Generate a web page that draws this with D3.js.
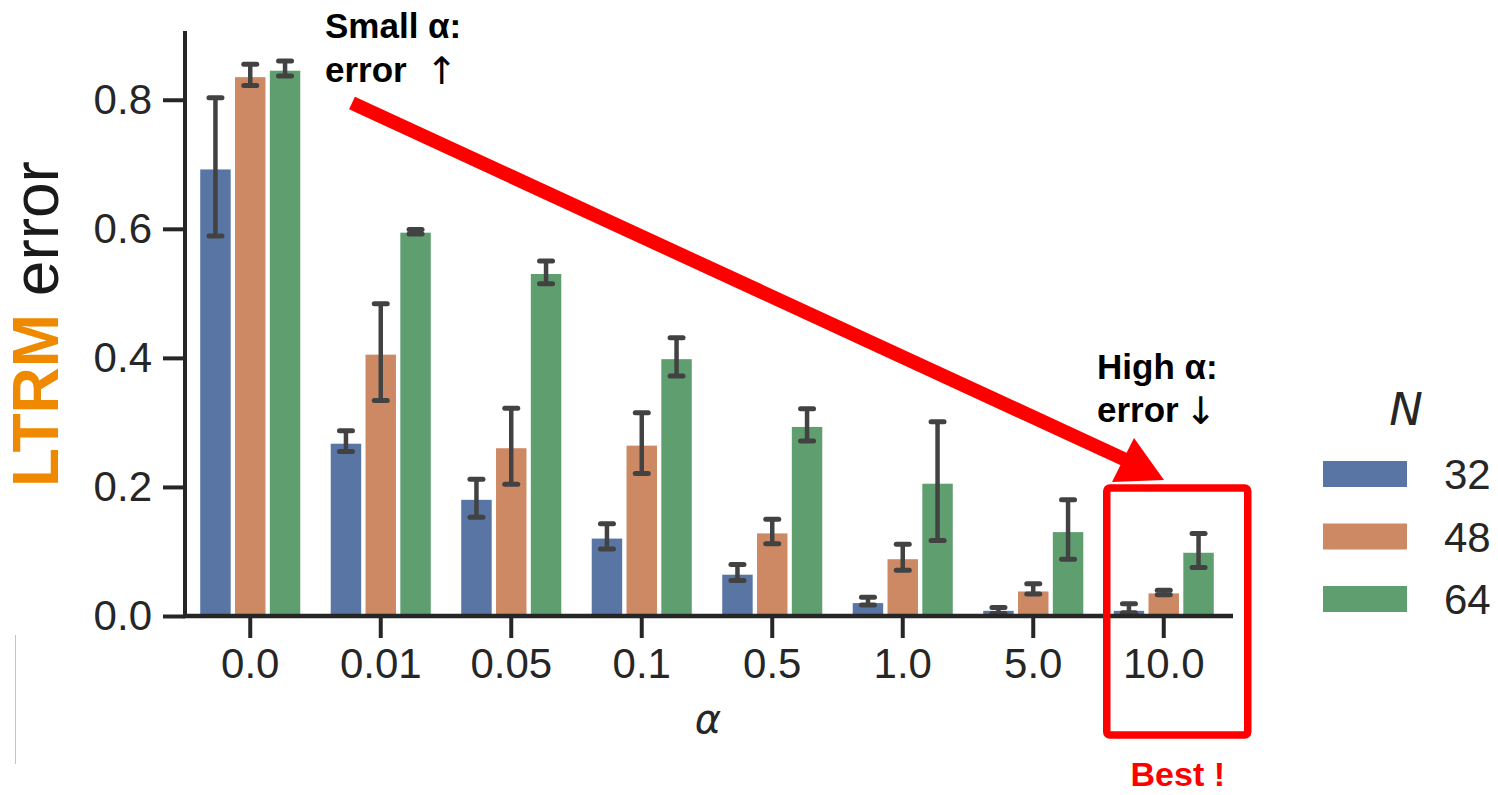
<!DOCTYPE html>
<html>
<head>
<meta charset="utf-8">
<script src="https://cdn.jsdelivr.net/npm/d3@7"></script>
<style>
  html, body { margin: 0; padding: 0; background: #ffffff; }
  svg { display: block; }
</style>
</head>
<body>
<svg id="chart" width="1498" height="795"></svg>
<script>
// Regularisation strength (x categories) and system sizes (hue)
const alphas = ["0.0", "0.01", "0.05", "0.1", "0.5", "1.0", "5.0", "10.0"];
const sizes = ["32", "48", "64"];

// Mean LTRM error and confidence interval per alpha, one array per N
const mean32 = [0.692, 0.267, 0.180, 0.120, 0.064, 0.020, 0.008, 0.008];
const lo32   = [0.589, 0.255, 0.153, 0.104, 0.055, 0.017, 0.004, 0.005];
const hi32   = [0.803, 0.287, 0.212, 0.143, 0.080, 0.029, 0.013, 0.019];

const mean48 = [0.835, 0.405, 0.260, 0.264, 0.128, 0.088, 0.038, 0.035];
const lo48   = [0.822, 0.334, 0.204, 0.221, 0.112, 0.071, 0.034, 0.033];
const hi48   = [0.855, 0.484, 0.322, 0.315, 0.150, 0.111, 0.050, 0.040];

const mean64 = [0.845, 0.594, 0.530, 0.398, 0.293, 0.205, 0.130, 0.098];
const lo64   = [0.837, 0.592, 0.515, 0.372, 0.271, 0.117, 0.088, 0.075];
const hi64   = [0.860, 0.599, 0.550, 0.431, 0.321, 0.301, 0.180, 0.128];

const yTicks = [0.0, 0.2, 0.4, 0.6, 0.8];
const colors = ["#5875a4", "#cc8963", "#5f9e6e"];

const seriesMean = [mean32, mean48, mean64];
const seriesLo = [lo32, lo48, lo64];
const seriesHi = [hi32, hi48, hi64];

const rows = [];
alphas.forEach((a, i) => {
  sizes.forEach((n, j) => {
    rows.push({ alpha: a, n: n, j: j, mean: seriesMean[j][i], lo: seriesLo[j][i], hi: seriesHi[j][i] });
  });
});

const svg = d3.select("#chart");
const ink = "#262626";
const sans = "'Liberation Sans', Arial, sans-serif";

svg.append("rect").attr("width", 1498).attr("height", 795).attr("fill", "#ffffff");

// Scales
const x0 = d3.scaleBand().domain(alphas).range([185, 1229]).paddingInner(0).paddingOuter(0);
const bw = x0.bandwidth();
const x1 = d3.scaleBand().domain(sizes).range([0.1 * bw, 0.9 * bw]).paddingInner(0.125).paddingOuter(0.0625);
const y = d3.scaleLinear().domain([0, 0.905]).range([616, 32]);

// Bars
svg.append("g").selectAll("rect").data(rows).join("rect")
  .attr("x", d => x0(d.alpha) + x1(d.n))
  .attr("width", x1.bandwidth())
  .attr("y", d => y(d.mean))
  .attr("height", d => y(0) - y(d.mean))
  .attr("fill", d => colors[d.j]);

// Error bars
const err = svg.append("g").attr("stroke", "#424242").attr("fill", "none");
rows.forEach(d => {
  const cx = x0(d.alpha) + x1(d.n) + x1.bandwidth() / 2;
  err.append("line").attr("x1", cx).attr("x2", cx).attr("y1", y(d.hi)).attr("y2", y(d.lo))
    .attr("stroke-width", 4.5);
  [d.lo, d.hi].forEach(v => {
    err.append("line").attr("x1", cx - 6.5).attr("x2", cx + 6.5).attr("y1", y(v)).attr("y2", y(v))
      .attr("stroke-width", 5).attr("stroke-linecap", "round");
  });
});

// Axes
const yAxis = svg.append("g").attr("transform", "translate(185,0)")
  .call(d3.axisLeft(y).tickValues(yTicks).tickFormat(d3.format(".1f")).tickSize(22).tickPadding(11));
const xAxis = svg.append("g").attr("transform", "translate(0,616)")
  .call(d3.axisBottom(x0).tickSize(22).tickPadding(10));
[yAxis, xAxis].forEach(g => {
  g.select(".domain").remove();
  g.selectAll(".tick line").attr("stroke", ink).attr("stroke-width", 4);
  g.selectAll(".tick text").attr("fill", ink).style("font-family", sans).style("font-size", "42px");
});
svg.append("line").attr("x1", 185).attr("x2", 185).attr("y1", 31).attr("y2", 618)
  .attr("stroke", ink).attr("stroke-width", 4);
svg.append("line").attr("x1", 183).attr("x2", 1233).attr("y1", 616).attr("y2", 616)
  .attr("stroke", ink).attr("stroke-width", 4.5);

// Axis titles
svg.append("text").attr("x", 708).attr("y", 733).attr("text-anchor", "middle")
  .style("font-family", "'DejaVu Sans', sans-serif").style("font-style", "italic").style("font-size", "40px")
  .attr("fill", ink).text("α");

const yl = svg.append("text").attr("transform", "translate(58,324) rotate(-90)")
  .attr("text-anchor", "middle").style("font-family", sans).style("font-size", "64px");
yl.append("tspan").attr("fill", "#ef8a00").style("font-weight", "bold").text("LTRM");
yl.append("tspan").attr("fill", "#1a1a1a").text(" error");

// Legend
const leg = svg.append("g");
leg.append("text").attr("x", 1406).attr("y", 425).attr("text-anchor", "middle")
  .style("font-family", "'DejaVu Sans', sans-serif").style("font-style", "italic").style("font-size", "45px")
  .attr("fill", ink).text("N");
sizes.forEach((n, j) => {
  const top = 461 + j * 62.5;
  leg.append("rect").attr("x", 1323).attr("y", top).attr("width", 84).attr("height", 26).attr("fill", colors[j]);
  leg.append("text").attr("x", 1444).attr("y", top + 28).style("font-family", sans).style("font-size", "42px")
    .attr("fill", ink).text(n);
});

// Annotations
const note = (x, yy, s, color) => svg.append("text").attr("x", x).attr("y", yy)
  .style("font-family", sans).style("font-weight", "bold").style("font-size", "35px").attr("fill", color || "#000").text(s);
const arrowGlyph = (x, yy, s) => svg.append("text").attr("x", x).attr("y", yy).attr("text-anchor", "middle")
  .style("font-family", "'DejaVu Sans', sans-serif").style("font-size", "38px").attr("fill", "#000").text(s);

note(325, 38, "Small α:");
note(325, 82, "error");
arrowGlyph(442, 84, "↑");
note(1097, 379, "High α:");
note(1097, 422, "error");
arrowGlyph(1201, 424, "↓");

// Trend arrow from small to large alpha
svg.append("line").attr("x1", 352).attr("y1", 103).attr("x2", 1128).attr("y2", 461)
  .attr("stroke", "#ff0000").attr("stroke-width", 14);
svg.append("path").attr("d", d3.line()([[1112, 482], [1134, 438], [1164, 480]]) + "Z").attr("fill", "#ff0000");

// Highlight box around the largest alpha
const c10 = x0("10.0") + bw / 2;
svg.append("rect").attr("x", c10 - 57).attr("y", 488).attr("width", 141).attr("height", 247)
  .attr("rx", 3).attr("fill", "none").attr("stroke", "#ff0000").attr("stroke-width", 7.5);
note(c10 + 14, 786, "Best !", "#ff0000").attr("text-anchor", "middle").style("font-size", "34px");

// Thin rule at the left margin
svg.append("line").attr("x1", 15.5).attr("x2", 15.5).attr("y1", 635).attr("y2", 764)
  .attr("stroke", "#c4c4c4").attr("stroke-width", 1);
</script>
</body>
</html>
